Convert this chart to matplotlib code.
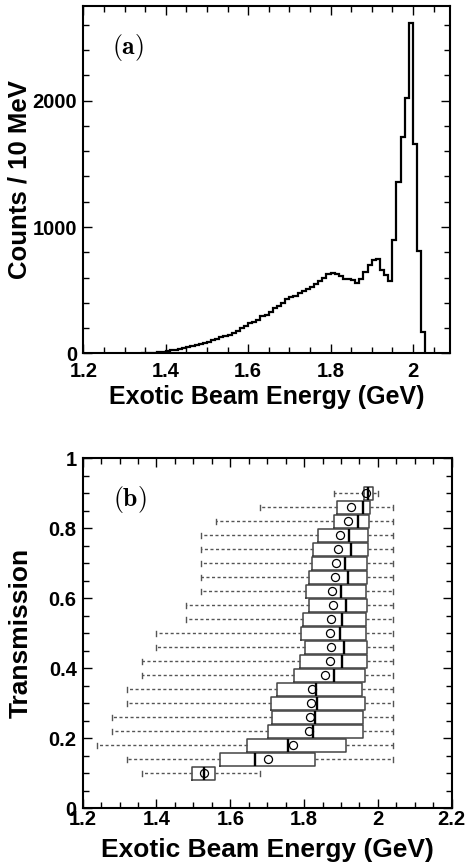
import numpy as np
import matplotlib
matplotlib.use('Agg')
import matplotlib.pyplot as plt
from matplotlib.ticker import MultipleLocator, FuncFormatter

plt.rcParams['font.family'] = ['Liberation Sans', 'DejaVu Sans']
plt.rcParams['font.weight'] = 'bold'
plt.rcParams['mathtext.fontset'] = 'cm'

# (a) beam energy spectrum, 10 MeV bins starting at 1.34 GeV
bin_start = 1.34
bin_width = 0.01
counts = [1, 2, 3, 5, 8, 12, 18, 24, 30, 36, 42, 47, 55, 62, 71, 79, 90, 103,
          116, 127, 137, 148, 164, 174, 200, 214, 237, 248, 264, 295, 300, 330,
          356, 375, 401, 433, 443, 456, 475, 490, 507, 528, 549, 573, 600, 628,
          633, 632, 610, 590, 590, 580, 556, 590, 640, 700, 740, 744, 660, 620,
          572, 897, 1359, 1715, 2020, 2618, 1660, 813, 171]

# (b) transmission bins: whisker ends, quartiles, median and mean energy (GeV)
transmission = [0.10, 0.14, 0.18, 0.22, 0.26, 0.30, 0.34, 0.38, 0.42, 0.46, 0.50,
                0.54, 0.58, 0.62, 0.66, 0.70, 0.74, 0.78, 0.82, 0.86, 0.90]
e_low = [1.36, 1.32, 1.24, 1.28, 1.28, 1.32, 1.32, 1.36, 1.36, 1.40, 1.40,
         1.48, 1.48, 1.52, 1.52, 1.52, 1.52, 1.52, 1.56, 1.68, 1.88]
e_q1 = [1.497, 1.571, 1.646, 1.703, 1.714, 1.711, 1.726, 1.772, 1.790, 1.802, 1.793,
        1.797, 1.814, 1.806, 1.814, 1.822, 1.824, 1.839, 1.882, 1.890, 1.962]
e_median = [1.529, 1.668, 1.757, 1.824, 1.830, 1.836, 1.832, 1.880, 1.903, 1.909, 1.897,
            1.902, 1.914, 1.901, 1.918, 1.910, 1.927, 1.922, 1.947, 1.960, 1.972]
e_q3 = [1.559, 1.830, 1.915, 1.960, 1.960, 1.965, 1.957, 1.966, 1.971, 1.971, 1.969,
        1.968, 1.970, 1.968, 1.971, 1.970, 1.974, 1.972, 1.976, 1.980, 1.987]
e_high = [1.68, 2.04, 2.04, 2.04, 2.04, 2.04, 2.04, 2.04, 2.04, 2.04, 2.04,
          2.04, 2.04, 2.04, 2.04, 2.04, 2.04, 2.04, 2.04, 2.04, 2.00]
e_mean = [1.529, 1.702, 1.769, 1.813, 1.816, 1.819, 1.822, 1.856, 1.870, 1.872, 1.870,
          1.872, 1.878, 1.875, 1.883, 1.886, 1.893, 1.897, 1.918, 1.927, 1.967]

fmt = FuncFormatter(lambda v, pos: '%g' % round(v, 6))


def style_axes(ax, xpad):
    for sp in ax.spines.values():
        sp.set_linewidth(1.5)
    ax.tick_params(which='both', direction='in', top=True, right=True,
                   width=1.0, labelsize=14.5)
    ax.tick_params(which='major', length=6.5)
    ax.tick_params(which='minor', length=4)
    ax.tick_params(axis='y', pad=4.3)
    ax.tick_params(axis='x', pad=xpad)
    ax.xaxis.set_major_formatter(fmt)
    ax.yaxis.set_major_formatter(fmt)


fig = plt.figure(figsize=(4.67, 8.66), dpi=100)

# --- (a) energy histogram
ax1 = fig.add_axes([0.1784, 0.592, 0.7852, 0.4011])
edges = bin_start + bin_width * np.arange(len(counts) + 1)
ax1.stairs(counts, edges, color='black', lw=1.6, baseline=0)
ax1.set_xlim(1.2, 2.09)
ax1.set_ylim(0, 2750)
ax1.xaxis.set_major_locator(MultipleLocator(0.2))
ax1.xaxis.set_minor_locator(MultipleLocator(0.05))
ax1.yaxis.set_major_locator(MultipleLocator(1000))
ax1.yaxis.set_minor_locator(MultipleLocator(200))
style_axes(ax1, 6)
ax1.set_xlabel('Exotic Beam Energy (GeV)', fontsize=18, fontweight='bold')
ax1.set_ylabel('Counts / 10 MeV', fontsize=18.5, fontweight='bold')
ax1.xaxis.set_label_coords(0.5, -0.09)
ax1.yaxis.set_label_coords(-0.14, 0.5)
ax1.text(0.078, 0.863, r'$\mathbf{(a)}$', transform=ax1.transAxes,
         fontsize=18.5, va='baseline', ha='left')

# --- (b) energy distribution per transmission bin
ax2 = fig.add_axes([0.1771, 0.0666, 0.790, 0.4042])
stats = []
for lo, a, m, b, hi, mu in zip(e_low, e_q1, e_median, e_q3, e_high, e_mean):
    stats.append(dict(whislo=lo, q1=a, med=m, q3=b, whishi=hi, mean=mu, fliers=[]))
ax2.bxp(stats, positions=transmission, widths=0.036, orientation='horizontal',
        showmeans=True, showfliers=False, manage_ticks=False, capwidths=0.014,
        boxprops=dict(color='#444444', lw=1.1),
        medianprops=dict(color='black', lw=1.7),
        whiskerprops=dict(color='#555555', lw=1.0, ls=(0, (2.2, 1.8))),
        capprops=dict(color='#555555', lw=1.0),
        meanprops=dict(marker='o', markerfacecolor='none', markeredgecolor='black',
                       markersize=5.8, markeredgewidth=0.9))
ax2.set_xlim(1.2, 2.2)
ax2.set_ylim(0, 1)
ax2.xaxis.set_major_locator(MultipleLocator(0.2))
ax2.xaxis.set_minor_locator(MultipleLocator(0.05))
ax2.yaxis.set_major_locator(MultipleLocator(0.2))
ax2.yaxis.set_minor_locator(MultipleLocator(0.05))
style_axes(ax2, 1)
ax2.set_xlabel('Exotic Beam Energy (GeV)', fontsize=19, fontweight='bold')
ax2.set_ylabel('Transmission', fontsize=19, fontweight='bold')
ax2.xaxis.set_label_coords(0.5, -0.085)
ax2.yaxis.set_label_coords(-0.135, 0.5)
ax2.text(0.082, 0.865, r'$\mathbf{(b)}$', transform=ax2.transAxes,
         fontsize=18.5, va='baseline', ha='left')

fig.savefig('out.png', dpi=100)
